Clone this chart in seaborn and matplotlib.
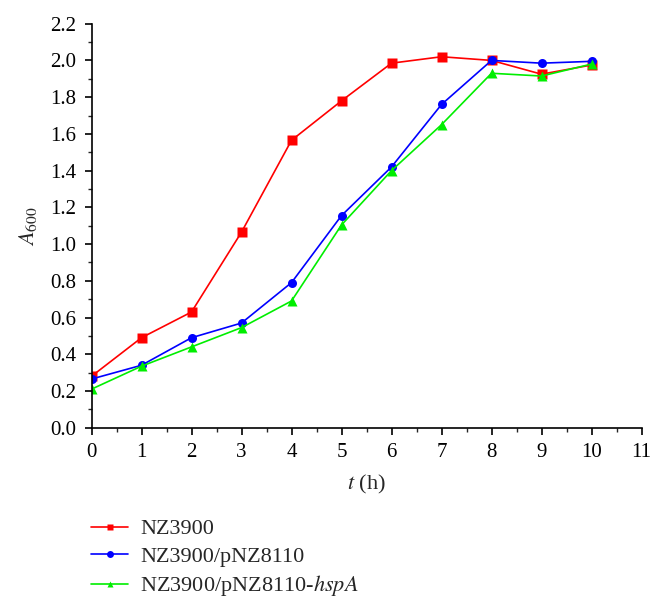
import numpy as np
import pandas as pd
import matplotlib
matplotlib.use("Agg")
import matplotlib.pyplot as plt
import seaborn as sns
from matplotlib.ticker import MultipleLocator, FormatStrFormatter
from matplotlib.lines import Line2D

hours = [0, 1, 2, 3, 4, 5, 6, 7, 8, 9, 10]
nz3900 = [0.28, 0.49, 0.63, 1.065, 1.565, 1.78, 1.985, 2.02, 2.0, 1.925, 1.975]
nz_p8110 = [0.265, 0.34, 0.49, 0.57, 0.79, 1.155, 1.42, 1.76, 2.0, 1.985, 1.995]
nz_p8110_hspA = [0.21, 0.335, 0.44, 0.545, 0.69, 1.104, 1.40, 1.65, 1.93, 1.915, 1.98]
series_names = ["NZ3900", "NZ3900/pNZ8110", "NZ3900/pNZ8110-$hspA$"]
colors = ["#ff0000", "#0000ff", "#00ee00"]
markers = ["s", "o", "^"]

sns.set_style("ticks")
plt.rcParams["font.family"] = ["Liberation Serif", "DejaVu Serif"]
plt.rcParams["mathtext.fontset"] = "stix"

df = pd.concat([
    pd.DataFrame({"t": hours, "A": vals, "strain": name})
    for name, vals in zip(series_names, [nz3900, nz_p8110, nz_p8110_hspA])
])

fig = plt.figure(figsize=(6.56, 6.09), dpi=100)
ax = fig.add_axes([0.1395, 0.2977, 0.8384, 0.6634])

sns.lineplot(data=df, x="t", y="A", hue="strain", style="strain",
             palette=colors, markers=markers, dashes=False,
             markersize=6.5, linewidth=1.2, markeredgecolor="none",
             legend=False, ax=ax, sort=False)

ax.set_xlim(0, 11)
ax.set_ylim(0, 2.2)
ax.xaxis.set_major_locator(MultipleLocator(1))
ax.xaxis.set_minor_locator(MultipleLocator(0.5))
ax.yaxis.set_major_locator(MultipleLocator(0.2))
ax.yaxis.set_minor_locator(MultipleLocator(0.1))
ax.yaxis.set_major_formatter(FormatStrFormatter("%.1f"))
ax.tick_params(which="major", direction="out", length=5, width=1.2,
               labelsize=15, colors="black", pad=6)
ax.tick_params(which="minor", direction="out", length=3, width=1.0)
for s in ["top", "right"]:
    ax.spines[s].set_visible(False)
for s in ["left", "bottom"]:
    ax.spines[s].set_linewidth(1.2)
    ax.spines[s].set_color("black")

ax.set_xlabel("$t$ (h)", fontsize=16, labelpad=8)
ax.set_ylabel("$A_{600}$", fontsize=16, labelpad=8)

handles = [Line2D([0], [0], color=c, marker=m, markersize=5, linewidth=1.2,
                  markeredgecolor="none") for c, m in zip(colors, markers)]
fig.legend(handles, series_names, loc="upper left", bbox_to_anchor=(0.139, 0.148),
           frameon=False, fontsize=16, handlelength=1.65, labelspacing=0.3,
           handletextpad=0.55, borderaxespad=0, borderpad=0)

fig.savefig("out.png", dpi=100, facecolor="white")
